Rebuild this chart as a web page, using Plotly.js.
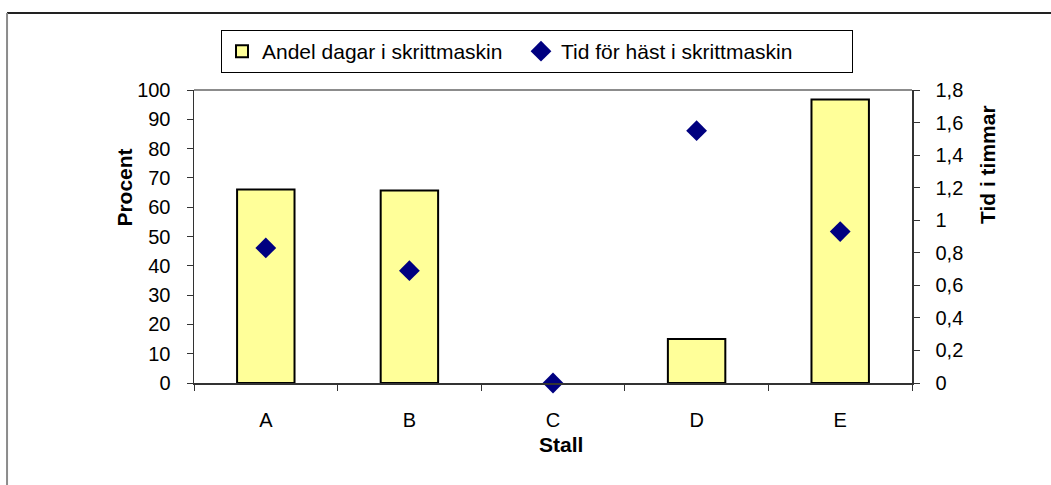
<!DOCTYPE html>
<html>
<head>
<meta charset="utf-8">
<script src="https://cdn.plot.ly/plotly-3.0.1.min.js"></script>
<style>html,body{margin:0;padding:0;background:#fff;}#chart{width:1051px;height:485px;}</style>
</head>
<body>
<div id="chart"></div>
<script>
const stalls = ['A', 'B', 'C', 'D', 'E'];
const andelDagar = [66, 65.7, 0, 15, 96.8];
const tidTimmar = [0.83, 0.69, 0, 1.55, 0.93];
const leftTicks = [0, 10, 20, 30, 40, 50, 60, 70, 80, 90, 100];
const rightTicks = [0, 0.2, 0.4, 0.6, 0.8, 1, 1.2, 1.4, 1.6, 1.8];

const FONT = '"Liberation Sans", Arial, sans-serif';
const FS = 20;   // tick labels
const FT = 21;   // titles and legend

const traces = [
  {
    type: 'bar', name: 'Andel dagar i skrittmaskin',
    x: stalls, y: andelDagar, yaxis: 'y', width: 0.4,
    marker: {color: '#FFFF99', line: {color: '#000', width: andelDagar.map(v => v > 0 ? 2 : 0)}},
    legendwidth: 254,
    hoverinfo: 'skip'
  },
  {
    type: 'scatter', mode: 'markers', name: 'Tid för häst i skrittmaskin',
    x: stalls, y: tidTimmar, yaxis: 'y2', cliponaxis: false,
    marker: {symbol: 'diamond', size: 16, color: '#000080'},
    legendwidth: 286,
    hoverinfo: 'skip'
  }
];

const layout = {
  width: 1051, height: 485,
  margin: {l: 194, r: 139, t: 90, b: 102},
  paper_bgcolor: '#fff', plot_bgcolor: '#fff',
  font: {family: FONT, size: FS, color: '#000'},
  separators: ', ',
  showlegend: true,
  legend: {
    orientation: 'h', x: (221 - 194) / 718, xanchor: 'left', y: 1.2048, yanchor: 'top',
    bordercolor: '#000', borderwidth: 1, font: {family: FONT, size: FT, color: '#000'},
    traceorder: 'normal', itemclick: false
  },
  xaxis: {
    type: 'category', categoryarray: stalls, range: [-0.5, 4.5],
    showline: true, linecolor: '#333', linewidth: 1.5,
    ticks: 'outside', tickson: 'boundaries', ticklen: 6, tickcolor: '#333', tickwidth: 1,
    showgrid: false, zeroline: false, ticklabelstandoff: 18,
    tickfont: {family: FONT, size: FS, color: '#000'}
  },
  yaxis: {
    range: [0, 100], tickvals: leftTicks, showgrid: false, zeroline: false,
    showline: true, linecolor: '#333', linewidth: 1.5,
    ticks: 'outside', ticklen: 6, tickcolor: '#333', tickwidth: 1,
    ticklabelstandoff: 12, tickfont: {family: FONT, size: FS, color: '#000'}
  },
  yaxis2: {
    range: [0, 1.8], tickvals: rightTicks, overlaying: 'y', side: 'right',
    showgrid: false, zeroline: false,
    showline: true, linecolor: '#333', linewidth: 1.5,
    ticks: 'outside', ticklen: 6, tickcolor: '#333', tickwidth: 1,
    ticklabelstandoff: 12, tickfont: {family: FONT, size: FS, color: '#000'}
  },
  xaxis2: {
    type: 'linear', range: [-0.5, 4.5], overlaying: 'x', anchor: 'y',
    tick0: -0.5, dtick: 1, ticks: 'inside', ticklen: 6, tickcolor: '#333',
    showticklabels: false, showline: false, showgrid: false, zeroline: false
  },
  yaxis3: {
    range: [0, 100], tickvals: leftTicks, overlaying: 'y', side: 'left', anchor: 'x',
    ticks: 'inside', ticklen: 6, tickcolor: '#333',
    showticklabels: false, showline: false, showgrid: false, zeroline: false
  },
  yaxis4: {
    range: [0, 1.8], tickvals: rightTicks, overlaying: 'y', side: 'right', anchor: 'x',
    ticks: 'inside', ticklen: 6, tickcolor: '#333',
    showticklabels: false, showline: false, showgrid: false, zeroline: false
  },
  shapes: [
    {type: 'line', xref: 'paper', yref: 'paper', x0: 0, x1: 1, y0: 1, y1: 1,
     line: {color: '#8c8c8c', width: 2}},
    {type: 'line', xref: 'paper', yref: 'paper', x0: -0.2604, x1: 1.35, y0: 1.2628, y1: 1.2628,
     line: {color: '#222', width: 2}},
    {type: 'line', xref: 'paper', yref: 'paper', x0: -0.2604, x1: -0.2604, y0: -0.5, y1: 1.2628,
     line: {color: '#8c8c8c', width: 2}}
  ],
  annotations: [
    {text: '<b>Procent</b>', xref: 'paper', yref: 'paper', x: -0.0961, y: 0.667,
     xanchor: 'center', yanchor: 'middle',
     textangle: -90, showarrow: false, font: {family: FONT, size: FT, color: '#000'}},
    {text: '<b>Tid i timmar</b>', xref: 'paper', yref: 'paper', x: 1.1045, y: 0.744,
     xanchor: 'center', yanchor: 'middle',
     textangle: -90, showarrow: false, font: {family: FONT, size: FT, color: '#000'}},
    {text: '<b>Stall</b>', xref: 'paper', yref: 'paper', x: 0.511, y: -0.2116,
     xanchor: 'center', yanchor: 'middle',
     showarrow: false, font: {family: FONT, size: FT, color: '#000'}}
  ]
};

Plotly.newPlot('chart', traces, layout, {displayModeBar: false, staticPlot: true});
</script>
</body>
</html>
